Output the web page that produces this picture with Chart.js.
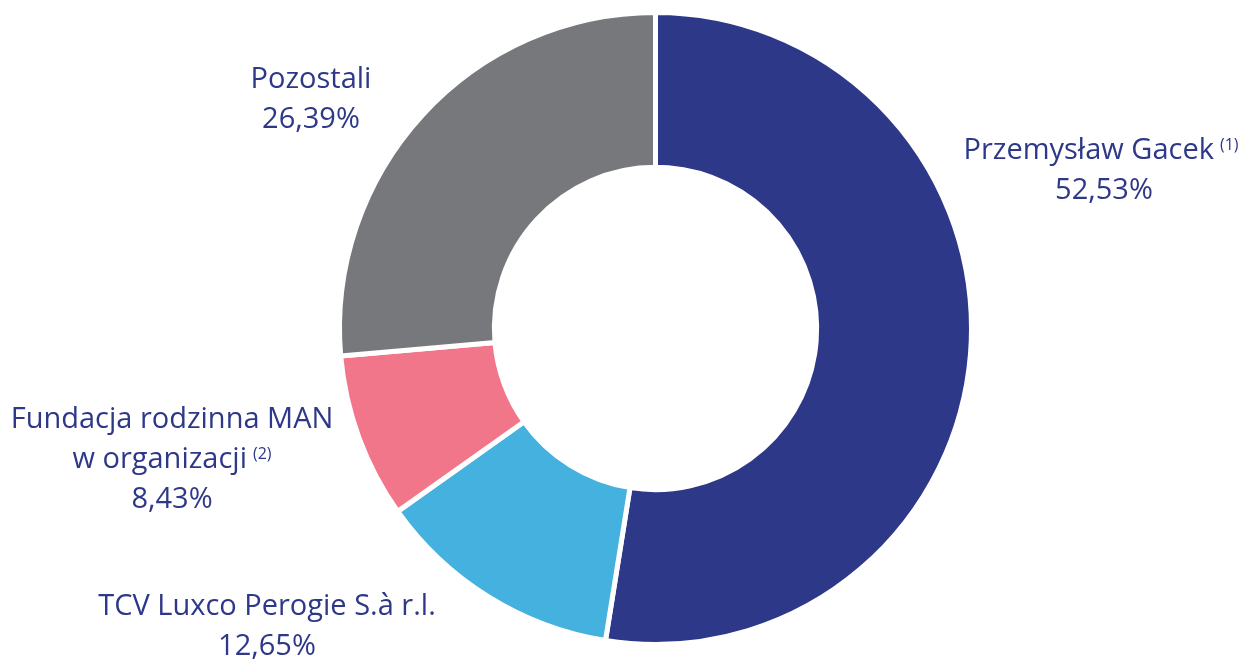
<!DOCTYPE html>
<html lang="pl">
<head>
    <meta charset="UTF-8">
    <title>Struktura akcjonariatu</title>
    <script src="https://cdn.jsdelivr.net/npm/chart.js@4.4.2/dist/chart.umd.min.js"></script>
    <style>
        html, body { margin: 0; padding: 0; background: #ffffff; }
        #wrap { width: 1250px; height: 661px; position: relative; }
    </style>
</head>
<body>
<div id="wrap"><canvas id="shareChart"></canvas></div>
<script>
    // Dane
    const labels = ['Przemysław Gacek', 'TCV Luxco Perogie S.à r.l.', 'Fundacja rodzinna MAN w organizacji', 'Pozostali'];
    const shares = [52.53, 12.65, 8.43, 26.39];
    const notes = ['(1)', '', '(2)', ''];
    const colors = ['#2e3888', '#45b1df', '#f27689', '#77787b'];

    // Rozmieszczenie etykiet (środek tekstu, linie)
    const labelLines = [
        ['Przemysław Gacek'],
        ['TCV Luxco Perogie S.à r.l.'],
        ['Fundacja rodzinna MAN', 'w organizacji'],
        ['Pozostali']
    ];
    const labelAnchors = [
        { x: 1101, pctX: 1104, y: 151 },
        { x: 267, pctX: 267, y: 607 },
        { x: 172, pctX: 172, y: 420 },
        { x: 311, pctX: 311, y: 80 }
    ];

    const fmt = v => v.toFixed(2).replace('.', ',') + '%';
    const textColor = '#2e3888';
    const font = '29px "Open Sans", sans-serif';
    const smallFont = '16px "Open Sans", sans-serif';
    const lineH = 40;

    const outsideLabels = {
        id: 'outsideLabels',
        afterDraw(chart) {
            const ctx = chart.ctx;
            ctx.save();
            ctx.fillStyle = textColor;
            ctx.textBaseline = 'middle';
            labelLines.forEach((lines, i) => {
                const a = labelAnchors[i];
                const rows = lines.slice();
                rows.push(fmt(shares[i]));
                rows.forEach((t, r) => {
                    const y = a.y + r * lineH;
                    const isPct = r === lines.length;
                    const isLastText = r === lines.length - 1 && notes[i];
                    ctx.font = font;
                    const w = ctx.measureText(t).width;
                    let noteW = 0;
                    if (isLastText) {
                        ctx.font = smallFont;
                        noteW = ctx.measureText(notes[i]).width + 6;
                    }
                    const cx = isPct ? a.pctX : a.x;
                    const x0 = cx - (w + noteW) / 2;
                    ctx.font = font;
                    ctx.textAlign = 'left';
                    ctx.fillText(t, x0, y);
                    if (isLastText) {
                        ctx.font = smallFont;
                        ctx.fillText(notes[i], x0 + w + 6, y - 6);
                    }
                });
            });
            ctx.restore();
        }
    };

    new Chart(document.getElementById('shareChart'), {
        type: 'doughnut',
        data: {
            labels: labels,
            datasets: [{
                data: shares,
                backgroundColor: colors,
                borderColor: '#ffffff',
                borderWidth: 5,
                hoverOffset: 0
            }]
        },
        options: {
            responsive: true,
            maintainAspectRatio: false,
            animation: false,
            cutout: '51%',
            layout: { padding: { left: 61, right: 0, top: 10, bottom: 14 } },
            plugins: {
                legend: { display: false },
                tooltip: { enabled: false }
            }
        },
        plugins: [outsideLabels]
    });
</script>
</body>
</html>
